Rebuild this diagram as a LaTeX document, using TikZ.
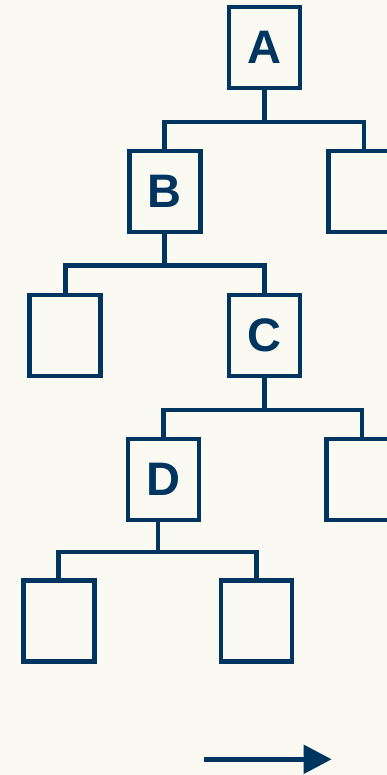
\documentclass[tikz,border=0pt]{standalone}
\usepackage{fontspec}
\setmainfont{Liberation Sans}
\usetikzlibrary{arrows.meta}
\definecolor{navy}{HTML}{00355F}
\definecolor{bg}{HTML}{FAFAF3}
\begin{document}
\begin{tikzpicture}[x=1pt,y=-1pt,
  box/.style={draw=navy,line width=4.6pt,minimum width=71pt,minimum height=81pt,inner sep=0pt,
    text=navy,font=\fontsize{47}{47}\selectfont\bfseries},
  conn/.style={draw=navy,line width=4.6pt}]
\fill[bg] (0,0) rectangle (387,775);
\clip (0,0) rectangle (387,775);
\useasboundingbox (0,0) rectangle (387,775);
\node[box] (A) at (264.3,47.7) {A};
\node[box] (B) at (164.7,191.7) {B};
\node[box] (R1) at (364,191.7) {};
\node[box] (L2) at (65.2,335.3) {};
\node[box] (C) at (264.3,335.3) {C};
\node[box] (R3) at (362,479.5) {};
\node[box] (D) at (163.3,479.5) {D};
\node[box] (DL) at (58.7,621) {};
\node[box] (DR) at (256.5,621) {};
% connectors
\draw[conn] (A.south) -- ++(0,31.5) coordinate (a1);
\draw[conn] (B.north) |- (a1) -| (R1.north);
\draw[conn] (B.south) -- ++(0,31) coordinate (b1);
\draw[conn] (L2.north) |- (b1) -| (C.north);
\draw[conn] (C.south) -- ++(0,32) coordinate (c1);
\draw[conn] (D.north) |- (c1) -| (R3.north);
\draw[conn] ([xshift=-5.3pt]D.south) -- ++(0,29.5) coordinate (d1);
\draw[conn] (DL.north) |- (d1) -| (DR.north);
% arrow
\coordinate (s) at (204,759.3);
\coordinate (e) at (331.7,759.3);
\draw[navy,line width=5pt,-{Triangle[length=28pt,width=28pt]}] (s) -- (e);
\end{tikzpicture}
\end{document}
